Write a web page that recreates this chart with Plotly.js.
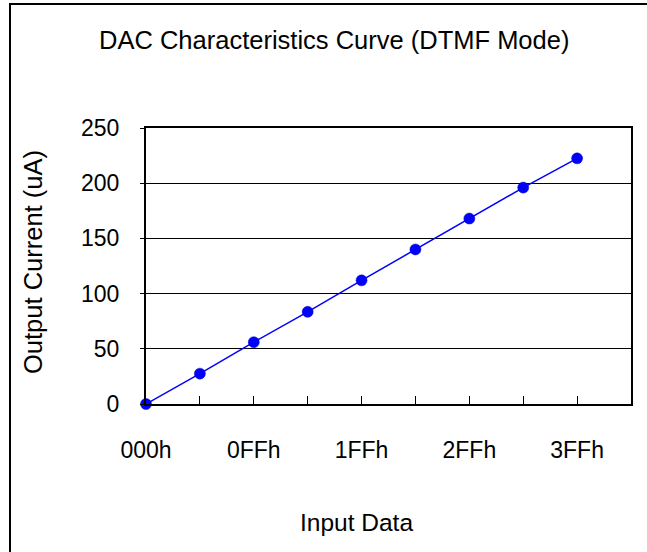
<!DOCTYPE html>
<html>
<head>
<meta charset="utf-8">
<script src="https://cdn.plot.ly/plotly-3.0.1.min.js"></script>
<style>
html,body{margin:0;padding:0;background:#fff;}
#chart{width:647px;height:552px;}
</style>
</head>
<body>
<div id="chart"></div>
<script>
// Data
const inputIndex = [0, 1, 2, 3, 4, 5, 6, 7, 8];
const outputCurrent = [0, 27.5, 56, 83.5, 112, 140, 168, 196, 222.5];
const xTickVals = [0, 1, 2, 3, 4, 5, 6, 7, 8, 9];
const xTickText = ["000h", "", "0FFh", "", "1FFh", "", "2FFh", "", "3FFh", ""];
const yTickVals = [0, 50, 100, 150, 200, 250];

const FONT = '"Liberation Sans Narrow", "Arial Narrow", "Liberation Sans", Arial, sans-serif';

const trace = {
  x: inputIndex,
  y: outputCurrent,
  type: 'scatter',
  mode: 'lines+markers',
  line: {color: '#0000ff', width: 1.5},
  marker: {color: '#0000ff', size: 11, line: {color: '#0000c0', width: 0.5}},
  cliponaxis: false,
  hoverinfo: 'skip'
};

const L = 146, R = 16, T = 128, B = 148;
const W = 647 - L - R, H = 552 - T - B;
function px(x){ return (x - L) / W; }
function py(y){ return 1 - (y - T) / H; }

const layout = {
  width: 647,
  height: 552,
  margin: {l: L, r: R, t: T, b: B, pad: 0},
  paper_bgcolor: '#ffffff',
  plot_bgcolor: '#ffffff',
  showlegend: false,
  font: {family: FONT, size: 23, color: '#000'},
  xaxis: {
    range: [0, 9],
    tickmode: 'array',
    tickvals: xTickVals,
    ticktext: xTickText,
    ticks: 'inside',
    ticklen: 8,
    tickwidth: 1,
    tickcolor: '#000',
    showgrid: false,
    zeroline: false,
    showline: true,
    linecolor: '#000',
    linewidth: 2,
    mirror: true,
    ticklabelstandoff: 24,
    tickfont: {family: FONT, size: 23, color: '#000'},
    fixedrange: true
  },
  yaxis: {
    range: [0, 250],
    tickmode: 'array',
    tickvals: yTickVals,
    ticks: 'outside',
    ticklen: 4,
    tickwidth: 1,
    tickcolor: '#000',
    showgrid: true,
    gridcolor: '#000',
    gridwidth: 1,
    zeroline: false,
    showline: true,
    linecolor: '#000',
    linewidth: 2,
    mirror: true,
    ticklabelstandoff: 16,
    tickfont: {family: FONT, size: 23, color: '#000'},
    fixedrange: true
  },
  annotations: [
    {
      text: 'DAC Characteristics Curve (DTMF Mode)',
      xref: 'paper', yref: 'paper',
      x: px(334), y: py(40),
      xanchor: 'center', yanchor: 'middle',
      showarrow: false,
      font: {family: FONT, size: 25.5, color: '#000'}
    },
    {
      text: 'Input Data',
      xref: 'paper', yref: 'paper',
      x: px(356), y: py(522),
      xanchor: 'center', yanchor: 'middle',
      showarrow: false,
      font: {family: FONT, size: 24.5, color: '#000'}
    },
    {
      text: 'Output Current (uA)',
      xref: 'paper', yref: 'paper',
      x: px(33), y: py(262),
      xanchor: 'center', yanchor: 'middle',
      textangle: -90,
      showarrow: false,
      font: {family: FONT, size: 25.5, color: '#000'}
    }
  ],
  shapes: [
    {type: 'line', xref: 'paper', yref: 'paper', x0: px(10), x1: px(10), y0: py(3), y1: py(560), line: {color: '#000', width: 2}},
    {type: 'line', xref: 'paper', yref: 'paper', x0: px(9), x1: px(660), y0: py(4), y1: py(4), line: {color: '#000', width: 2}}
  ]
};

Plotly.newPlot('chart', [trace], layout, {staticPlot: true, displayModeBar: false});
</script>
</body>
</html>
